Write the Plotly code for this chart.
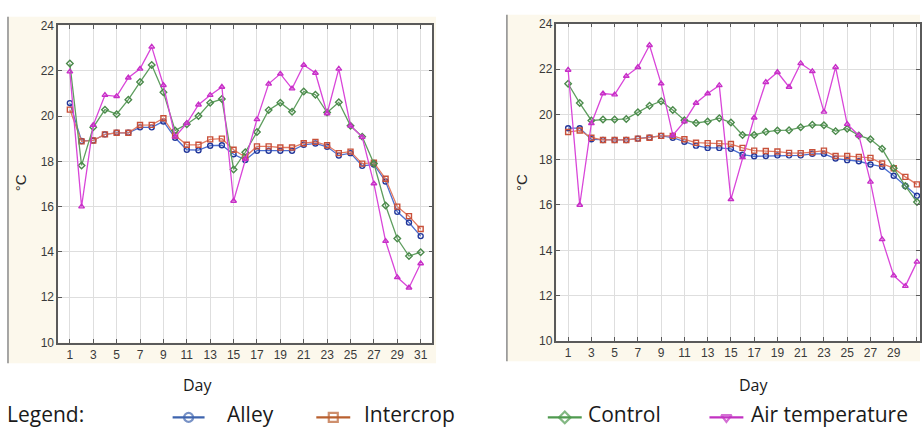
import plotly.graph_objects as go

W, H = 922, 436

days = list(range(1, 32))
x_ticks = [1, 3, 5, 7, 9, 11, 13, 15, 17, 19, 21, 23, 25, 27, 29, 31]
y_ticks = [10, 12, 14, 16, 18, 20, 22, 24]

# air temperature is the same in both panels
air = [21.96, 16.0, 19.6, 20.92, 20.87, 21.69, 22.08, 23.05, 21.36, 19.08,
       19.68, 20.5, 20.92, 21.28, 16.25, 18.1, 19.85, 21.42, 21.86, 21.21,
       22.25, 21.9, 20.11, 22.08, 19.57, 19.07, 17.02, 14.48, 12.88, 12.42, 13.49]

alley_a = [20.57, 18.9, 18.92, 19.19, 19.26, 19.26, 19.5, 19.5, 19.76, 19.04,
           18.51, 18.49, 18.69, 18.71, 18.31, 18.06, 18.47, 18.47, 18.47, 18.47,
           18.73, 18.79, 18.64, 18.26, 18.36, 17.8, 17.86, 17.11, 15.77, 15.3, 14.7]
intercrop_a = [20.28, 18.88, 18.92, 19.19, 19.26, 19.26, 19.6, 19.61, 19.9, 19.14,
               18.73, 18.73, 18.97, 19.0, 18.51, 18.19, 18.66, 18.66, 18.61, 18.61,
               18.8, 18.86, 18.71, 18.36, 18.43, 17.9, 17.94, 17.23, 16.0, 15.58, 15.01]
control_a = [22.32, 17.82, 19.5, 20.28, 20.08, 20.72, 21.5, 22.25, 21.05, 19.36,
             19.64, 20.0, 20.58, 20.75, 17.64, 18.4, 19.29, 20.26, 20.59, 20.19,
             21.08, 20.94, 20.15, 20.61, 19.57, 19.09, 17.9, 16.05, 14.59, 13.82, 13.99]

alley_b = [19.39, 19.39, 18.9, 18.87, 18.87, 18.87, 18.93, 18.97, 19.05, 18.97,
           18.79, 18.62, 18.52, 18.52, 18.48, 18.22, 18.15, 18.16, 18.19, 18.19,
           18.19, 18.26, 18.26, 18.05, 17.98, 17.93, 17.79, 17.69, 17.29, 16.84, 16.41]
intercrop_b = [19.22, 19.29, 18.97, 18.87, 18.87, 18.87, 18.93, 18.97, 19.05, 19.05,
               18.9, 18.75, 18.73, 18.72, 18.69, 18.52, 18.4, 18.38, 18.36, 18.3,
               18.29, 18.33, 18.4, 18.16, 18.16, 18.12, 18.08, 17.83, 17.62, 17.24, 16.91]
control_b = [21.35, 20.5, 19.73, 19.77, 19.77, 19.8, 20.09, 20.38, 20.58, 20.19,
             19.74, 19.62, 19.69, 19.83, 19.64, 19.09, 19.09, 19.23, 19.29, 19.3,
             19.43, 19.54, 19.52, 19.26, 19.37, 19.07, 18.9, 18.48, 17.62, 16.84, 16.13]

series_names = ["Alley", "Intercrop", "Control", "Air temperature"]
line_colors = ["#4d6fd0", "#e27a62", "#5f9e5f", "#d946d9"]
marker_colors = ["#23379a", "#c8503a", "#4b8a4b", "#c72fc7"]
symbols = ["circle-open", "square-open", "diamond-open", "triangle-up-open"]
legend_colors = ["#3e64ae", "#b9602f", "#4f9a4f", "#c232c2"]
legend_symbols = ["circle-open", "square-open", "diamond-open", "triangle-down-open"]


def px_x(p):
    return p / W


def px_y(p):
    return (H - p) / H


fig = go.Figure()

panels = [
    ("x", "y", [alley_a, intercrop_a, control_a, air]),
    ("x2", "y2", [alley_b, intercrop_b, control_b, air]),
]
for xa, ya, data in panels:
    for name, vals, lc, mc, sym in zip(series_names, data, line_colors, marker_colors, symbols):
        fig.add_trace(go.Scatter(
            x=days, y=vals, name=name, mode="lines+markers",
            line=dict(color=lc, width=1.3),
            marker=dict(symbol=sym, size=5, color=mc, line=dict(width=1.4, color=mc)),
            xaxis=xa, yaxis=ya, showlegend=False, hoverinfo="x+y+name",
        ))

# hand-made legend row on a hidden pixel axis
leg_y = 424
leg_lines = [(173, 205), (317, 351), (549, 583), (711, 745)]
for (x0, x1), lc, sym, name in zip(leg_lines, legend_colors, legend_symbols, series_names):
    fig.add_trace(go.Scatter(
        x=[x0, (x0 + x1) / 2, x1], y=[H - leg_y] * 3, mode="lines+markers",
        line=dict(color=lc, width=2.4),
        marker=dict(symbol=sym, size=[0, 9, 0], color=lc, line=dict(width=2.2, color=lc)),
        xaxis="x3", yaxis="y3", showlegend=False, hoverinfo="skip",
    ))

axis_common = dict(
    showline=True, linecolor="#5a5a5a", linewidth=1.5, mirror="ticks",
    ticks="inside", ticklen=4, tickcolor="#5a5a5a",
    showgrid=True, gridcolor="#dedede", gridwidth=1, zeroline=False,
    tickfont=dict(family="Liberation Sans, Arial", size=12, color="#3a3a3a"),
)

fig.update_layout(
    width=W, height=H,
    margin=dict(l=0, r=0, t=0, b=0),
    paper_bgcolor="white", plot_bgcolor="white",
    showlegend=False,
    xaxis=dict(domain=[px_x(58.3), px_x(433.3)], range=[0, 32], tickvals=x_ticks,
               anchor="y", **axis_common),
    yaxis=dict(domain=[px_y(346.7), px_y(19)], range=[10, 24], tickvals=y_ticks,
               anchor="x", **axis_common),
    xaxis2=dict(domain=[px_x(557.7), 1.0], range=[0, 31.26], tickvals=x_ticks,
                anchor="y2", **axis_common),
    yaxis2=dict(domain=[px_y(345), px_y(17.3)], range=[10, 24], tickvals=y_ticks,
                anchor="x2", **axis_common),
    xaxis3=dict(domain=[0, 1], range=[0, W], visible=False, anchor="y3"),
    yaxis3=dict(domain=[0, 0.06], range=[0, 0.06 * H], visible=False, anchor="x3"),
)

# cream panel frames
for x0, x1, y0, y1 in [(8, 437, 10, 368), (508, 922, 8, 366)]:
    fig.add_shape(type="rect", xref="paper", yref="paper",
                  x0=px_x(x0), x1=px_x(x1), y0=px_y(y1), y1=px_y(y0),
                  fillcolor="#fcf8ec", line=dict(width=0), layer="below")
    fig.add_shape(type="line", xref="paper", yref="paper",
                  x0=px_x(x0), x1=px_x(x0), y0=px_y(y1), y1=px_y(y0),
                  line=dict(color="#8a8a8a", width=1.5), layer="below")

# keep the plotting areas white on top of the cream
for xr, yr in [("x domain", "y domain"), ("x2 domain", "y2 domain")]:
    fig.add_shape(type="rect", xref=xr, yref=yr, x0=0, x1=1, y0=0, y1=1,
                  fillcolor="white", line=dict(width=0), layer="below")

label_font = dict(family="Open Sans", size=16, color="#1a1a1a")
for xc in [198, 756]:
    fig.add_annotation(text="Day", x=px_x(xc), y=px_y(391), xref="paper", yref="paper",
                       showarrow=False, xanchor="center", yanchor="middle", font=label_font)
for xc in [20, 522]:
    fig.add_annotation(text="°C", x=px_x(xc), y=px_y(181), xref="paper", yref="paper",
                       showarrow=False, textangle=-90, xanchor="center", yanchor="middle",
                       font=dict(family="Liberation Sans, Arial", size=15, color="#2a2a2a"))

legend_font = dict(family="Open Sans", size=21, color="#1a1a1a")
for txt, xl in [("Legend:", 5), ("Alley", 225), ("Intercrop", 363),
                ("Control", 587), ("Air temperature", 751)]:
    fig.add_annotation(text=txt, x=px_x(xl), y=px_y(421), xref="paper", yref="paper",
                       showarrow=False, xanchor="left", yanchor="middle", font=legend_font)

# the page body has a default 8px margin; drop it so the figure fills the window
fig.write_html("out.html", config={"displayModeBar": False},
               post_script="document.body.style.margin='0';document.body.style.overflow='hidden';")
